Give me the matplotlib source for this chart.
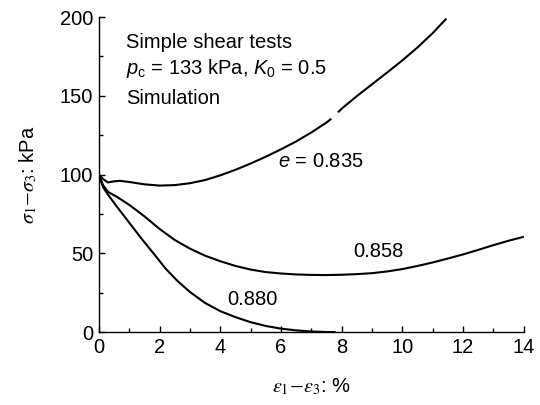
import numpy as np
import matplotlib
matplotlib.use("Agg")
import matplotlib.pyplot as plt

# Simulated simple shear curves: deviator stress vs shear strain
# e = 0.835 (the NaN leaves the small break in the drawn curve)
strain_835 = [0, 0.15, 0.3, 0.5, 0.7, 1.0, 1.5, 2.0, 2.5, 3.0, 3.5, 4.0, 4.5,
              5.0, 5.5, 6.0, 6.5, 7.0, 7.5, 7.66, 7.77, 7.88, 8.0, 8.5, 9.0,
              9.5, 10.0, 10.5, 11.0, 11.45]
stress_835 = [100, 97, 95, 95.7, 96, 95.3, 93.8, 93, 93.3, 94.5, 96.5, 99.5,
              103, 107, 111.3, 116, 121, 126.7, 133, 135.5, np.nan, 139.5, 141.8,
              149.8, 157.3, 164.8, 172.5, 180.7, 189.8, 199]

strain_858 = [0, 0.14, 0.3, 0.6, 1.0, 1.5, 2.0, 2.5, 3.0, 3.5, 4.0, 4.5, 5.0,
              5.5, 6.0, 6.5, 7.0, 7.5, 8.0, 8.5, 9.0, 9.5, 10.0, 10.5, 11.0,
              11.5, 12.0, 12.5, 13.0, 13.5, 14.0]
stress_858 = [100, 93.3, 89, 85.8, 80.8, 73.5, 65.5, 58.5, 53, 48.5, 45, 42,
              39.7, 38.1, 37.2, 36.6, 36.3, 36.2, 36.4, 36.8, 37.4, 38.5, 40,
              42, 44.2, 46.7, 49.3, 52.2, 55.2, 58, 60.5]

strain_880 = [0, 0.14, 0.3, 0.6, 1.0, 1.4, 1.8, 2.2, 2.6, 3.0, 3.5, 4.0, 4.5,
              5.0, 5.5, 6.0, 6.5, 7.0, 7.5, 7.8]
stress_880 = [100, 92, 87.3, 79.5, 69.5, 59.5, 50, 40.3, 32.3, 25.5, 18.5,
              13.3, 9.5, 6.3, 3.9, 2.2, 1.1, 0.4, 0.05, 0]

plt.rcParams["font.family"] = "Liberation Sans"
plt.rcParams["mathtext.fontset"] = "custom"
plt.rcParams["mathtext.rm"] = "Liberation Sans"
plt.rcParams["mathtext.it"] = "Liberation Sans:italic"

FS = 14.5

fig = plt.figure(figsize=(5.4, 4.05), dpi=100)
ax = fig.add_axes([0.183, 0.180, 0.787, 0.778])

for xs, ys in [(strain_835, stress_835), (strain_858, stress_858), (strain_880, stress_880)]:
    ax.plot(xs, ys, color="black", linewidth=1.5, solid_capstyle="butt")

ax.set_xlim(0, 14)
ax.set_ylim(0, 200)
ax.set_xticks(np.arange(0, 15, 2))
ax.set_xticks(np.arange(0, 15, 1), minor=True)
ax.set_yticks(np.arange(0, 201, 50))
ax.set_yticks(np.arange(0, 201, 25), minor=True)
ax.tick_params(which="both", direction="in", width=1.0, labelsize=FS, pad=4)
ax.tick_params(which="major", length=4.5)
ax.tick_params(which="minor", length=2.8)
ax.spines["top"].set_visible(False)
ax.spines["right"].set_visible(False)
for side in ("left", "bottom"):
    ax.spines[side].set_linewidth(1.0)

ax.set_xlabel(r"$\varepsilon_1\!-\!\varepsilon_3$: %", fontsize=FS,
              math_fontfamily="stix", labelpad=14)
ax.set_ylabel(r"$\sigma_1\!-\!\sigma_3$: kPa", fontsize=FS,
              math_fontfamily="stix", labelpad=15)

ax.text(0.89, 184, "Simple shear tests", fontsize=FS, ha="left", va="center")
ax.text(0.89, 167.5, r"$p_{\rm c}$ = 133 kPa, $K_0$ = 0.5",
        fontsize=FS, ha="left", va="center")
ax.text(0.89, 148.5, "Simulation", fontsize=FS, ha="left", va="center")

ax.text(7.31, 108, r"$e$ = 0.835", fontsize=FS, ha="center", va="center")
ax.text(9.22, 51.4, "0.858", fontsize=FS, ha="center", va="center")
ax.text(5.07, 21, "0.880", fontsize=FS, ha="center", va="center")

fig.savefig("out.png", dpi=100)
